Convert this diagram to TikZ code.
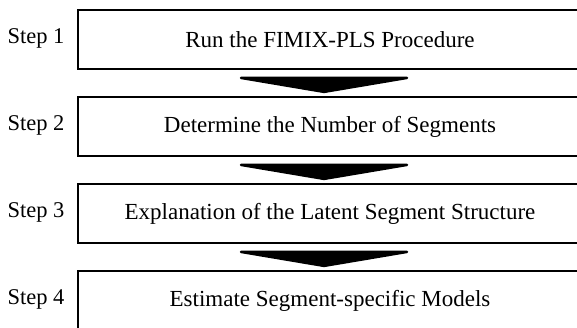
\documentclass[tikz,border=0pt]{standalone}
\usepackage{fontspec}
\setmainfont{Liberation Serif}
\usetikzlibrary{positioning,calc}

\begin{document}
\begin{tikzpicture}[x=1pt, y=1pt]
    \tikzstyle{stepbox} = [draw, rectangle, line width = 2.8pt, minimum width = 504pt, minimum height = 59pt, font = \fontsize{23}{27}\selectfont]
    \tikzstyle{steplabel} = [inner sep = 0pt, font = \fontsize{22.5}{27}\selectfont]
    \tikzstyle{flow} = [fill = black, draw = black, line width = 2.5pt, line join = round]
    \useasboundingbox (0, 0) rectangle (577, -327);
    % the four steps
    \node[stepbox] (s1) at (330, -39.5) {Run the FIMIX-PLS Procedure};
    \node[stepbox] (s2) at (330, -126.5) {Determine the Number of Segments};
    \node[stepbox] (s3) at (330, -213.5) {Explanation of the Latent Segment Structure};
    \node[stepbox] (s4) at (330, -300.5) {Estimate Segment-specific Models};
    \node[steplabel, left = 12pt of s1, yshift = 1.5pt] (t1) {Step 1};
    \node[steplabel, left = 12pt of s2, yshift = 1.5pt] (t2) {Step 2};
    \node[steplabel, left = 12pt of s3, yshift = 1.5pt] (t3) {Step 3};
    \node[steplabel, left = 12pt of s4, yshift = 1.5pt] (t4) {Step 4};
    % arrows between the steps
    \draw[flow] ($(s1.south)+(-89,-7.5)$) -- ($(s1.south)+(77,-7.5)$) -- ($(s1.south)+(-6,-21.5)$) -- cycle;
    \draw[flow] ($(s2.south)+(-89,-7.5)$) -- ($(s2.south)+(77,-7.5)$) -- ($(s2.south)+(-6,-21.5)$) -- cycle;
    \draw[flow] ($(s3.south)+(-89,-7.5)$) -- ($(s3.south)+(77,-7.5)$) -- ($(s3.south)+(-6,-21.5)$) -- cycle;
\end{tikzpicture}
\end{document}
